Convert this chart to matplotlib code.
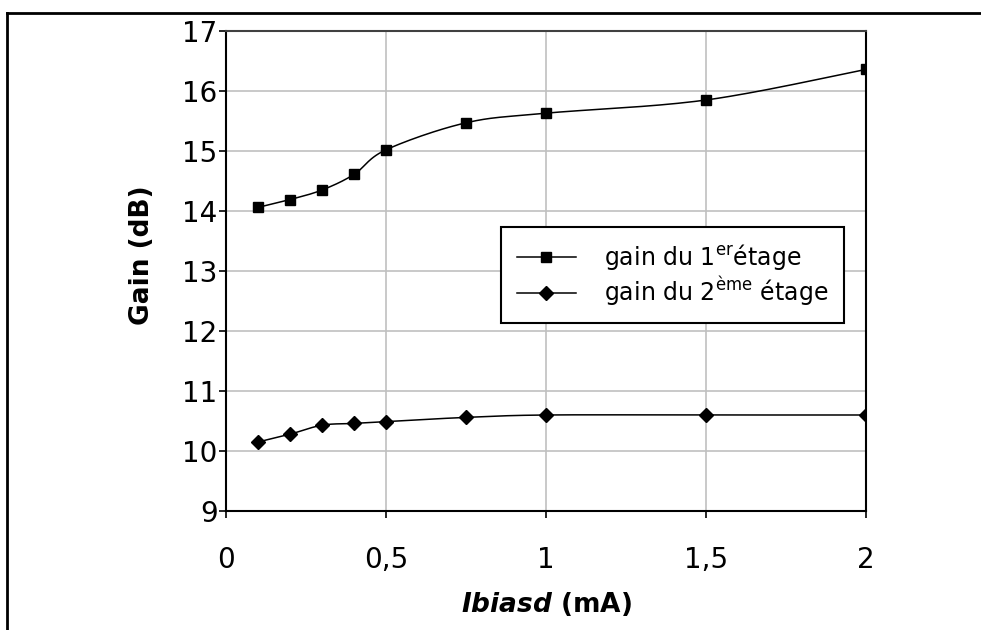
import numpy as np
import matplotlib.pyplot as plt
from matplotlib.lines import Line2D

# courant de polarisation (mA)
ibias = [0.1, 0.2, 0.3, 0.4, 0.5, 0.75, 1.0, 1.5, 2.0]
gain_etage1 = [14.06, 14.19, 14.35, 14.61, 15.02, 15.47, 15.63, 15.85, 16.36]
gain_etage2 = [10.15, 10.28, 10.43, 10.46, 10.49, 10.56, 10.60, 10.60, 10.60]

x_ticks = [0, 0.5, 1, 1.5, 2]
x_ticklabels = ['0', '0,5', '1', '1,5', '2']
y_ticks = list(range(9, 18))


def lissage(x, y, n=30):
    # courbe lissée façon tableur (Bézier, points de contrôle à 1/6)
    p = np.column_stack([x, y]).astype(float)
    p = np.vstack([p[0], p, p[-1]])
    pts = []
    for i in range(1, len(p) - 2):
        p0, p3 = p[i], p[i + 1]
        c1 = p0 + (p[i + 1] - p[i - 1]) / 6
        c2 = p3 - (p[i + 2] - p[i]) / 6
        t = np.linspace(0, 1, n)[:, None]
        seg = ((1 - t) ** 3) * p0 + 3 * ((1 - t) ** 2) * t * c1 + 3 * (1 - t) * t ** 2 * c2 + t ** 3 * p3
        pts.append(seg)
    pts = np.vstack(pts)
    return pts[:, 0], pts[:, 1]


plt.rcParams['font.family'] = 'DejaVu Sans'
plt.rcParams['mathtext.fontset'] = 'dejavusans'
plt.rcParams['mathtext.default'] = 'regular'

fig = plt.figure(figsize=(9.81, 6.30), dpi=100)
ax = fig.add_axes([0.2304, 0.1889, 0.6524, 0.7619])

# cadre de la figure (haut et gauche)
fig.add_artist(Line2D([7 / 981, 1], [1 - 13 / 630, 1 - 13 / 630], color='black', lw=2))
fig.add_artist(Line2D([7 / 981, 7 / 981], [0, 1 - 13 / 630], color='black', lw=2))

xs, ys = lissage(ibias, gain_etage1)
ax.plot(xs, ys, color='black', lw=1.1, zorder=3)
ax.plot(ibias, gain_etage1, ls='none', marker='s', ms=7.5, color='black', zorder=4)

xs, ys = lissage(ibias, gain_etage2)
ax.plot(xs, ys, color='black', lw=1.1, zorder=3)
ax.plot(ibias, gain_etage2, ls='none', marker='D', ms=7.5, color='black', zorder=4)

ax.set_xlim(0, 2)
ax.set_ylim(9, 17)
ax.set_xticks(x_ticks)
ax.set_xticklabels(x_ticklabels)
ax.set_yticks(y_ticks)
ax.tick_params(axis='both', labelsize=20, width=1.2, color='black')
ax.tick_params(axis='x', length=5, pad=20)
ax.tick_params(axis='y', length=5, pad=1)
ax.grid(True, color='#c0c0c0', lw=1.2)
ax.set_axisbelow(True)
for s in ax.spines.values():
    s.set_linewidth(1.5)
    s.set_color('black')
ax.spines['top'].set_color('#404040')

ax.set_ylabel('Gain (dB)', fontsize=19, fontweight='bold')
ax.yaxis.set_label_coords(-0.111, 0.533)
ax.set_xlabel(r'$\mathbfit{Ibiasd}$ (mA)', fontsize=19, fontweight='bold', labelpad=12)

handles = [
    Line2D([], [], color='black', lw=1.1, marker='s', ms=7.5),
    Line2D([], [], color='black', lw=1.1, marker='D', ms=7.5),
]
labels = [r'gain du 1$^{er}$étage', r'gain du 2$^{ème}$ étage']
leg = ax.legend(handles, labels, loc='upper left', bbox_to_anchor=(0.43, 0.592),
                borderaxespad=0, fontsize=17, fancybox=False, framealpha=1,
                edgecolor='black', handlelength=2.5, labelspacing=0.1,
                borderpad=0.65, handletextpad=1.2)
leg.get_frame().set_linewidth(1.5)

fig.savefig('out.png', dpi=100)
